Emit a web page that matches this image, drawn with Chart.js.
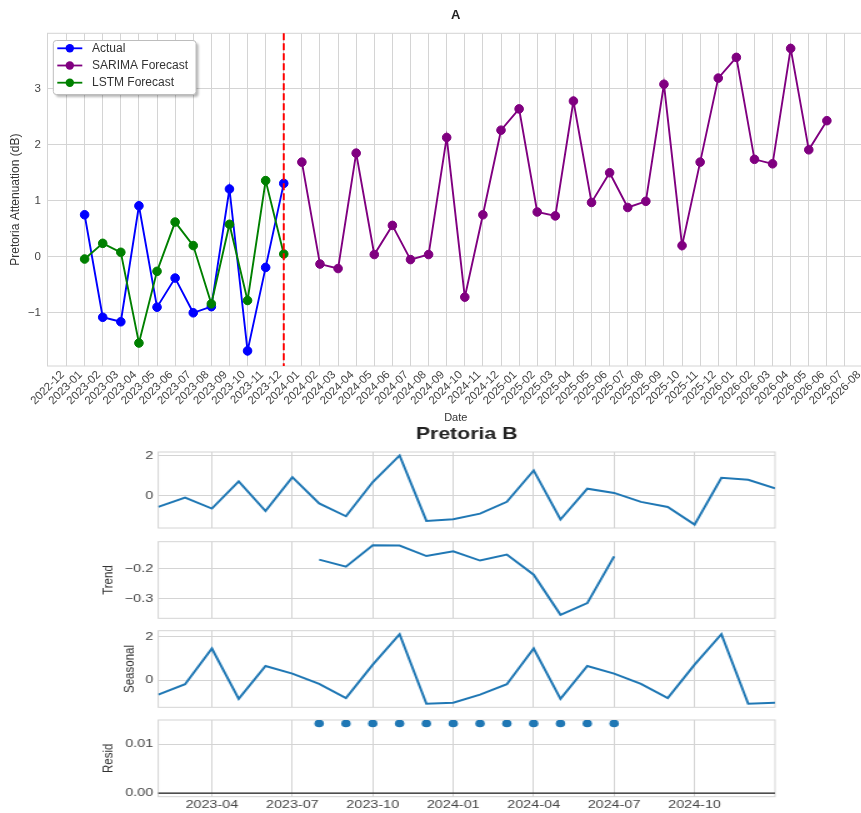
<!DOCTYPE html>
<html>
<head>
<meta charset="utf-8">
<title>Pretoria attenuation</title>
<script src="https://cdn.jsdelivr.net/npm/chart.js@4/dist/chart.umd.min.js"></script>
<style>
  html, body { margin: 0; padding: 0; background: #fff; }
  body { width: 861px; height: 813px; overflow: hidden; position: relative; }
  .panel { position: absolute; left: 0; }
  .wide { transform-origin: 0 0; transform: scaleX(1.25); }
  canvas { display: block; }
</style>
</head>
<body>
<div class="panel" style="top:0"><canvas id="forecast" width="880" height="430"></canvas></div>
<div class="panel wide" style="top:420px"><canvas id="observed" width="689" height="110"></canvas></div>
<div class="panel wide" style="top:535px"><canvas id="trend" width="689" height="86"></canvas></div>
<div class="panel wide" style="top:624px"><canvas id="seasonal" width="689" height="86"></canvas></div>
<div class="panel wide" style="top:713px"><canvas id="resid" width="689" height="100"></canvas></div>

<script>
// ---- Forecast panel (A) ----
const actualMonths = ['2023-01','2023-02','2023-03','2023-04','2023-05','2023-06',
                      '2023-07','2023-08','2023-09','2023-10','2023-11','2023-12'];
const actualValues = [0.75, -1.08, -1.16, 0.91, -0.90, -0.38, -1.00, -0.89, 1.21, -1.68, -0.19, 1.31];
const lstmValues   = [-0.04, 0.24, 0.08, -1.54, -0.26, 0.62, 0.20, -0.84, 0.58, -0.78, 1.36, 0.05];

const forecastMonths = ['2024-01','2024-02','2024-03','2024-04','2024-05','2024-06',
                        '2024-07','2024-08','2024-09','2024-10','2024-11','2024-12',
                        '2025-01','2025-02','2025-03','2025-04','2025-05','2025-06',
                        '2025-07','2025-08','2025-09','2025-10','2025-11','2025-12',
                        '2026-01','2026-02','2026-03','2026-04','2026-05','2026-06'];
const sarimaValues = [1.69, -0.13, -0.21, 1.85, 0.04, 0.56, -0.05, 0.04, 2.13, -0.72, 0.75, 2.26,
                      2.64, 0.80, 0.73, 2.78, 0.97, 1.50, 0.88, 0.99, 3.08, 0.20, 1.69, 3.19,
                      3.56, 1.74, 1.66, 3.72, 1.91, 2.43];

const forecastStart = '2023-12';

const monthTickLabels = ['2022-12',
  '2023-01','2023-02','2023-03','2023-04','2023-05','2023-06','2023-07','2023-08','2023-09','2023-10','2023-11','2023-12',
  '2024-01','2024-02','2024-03','2024-04','2024-05','2024-06','2024-07','2024-08','2024-09','2024-10','2024-11','2024-12',
  '2025-01','2025-02','2025-03','2025-04','2025-05','2025-06','2025-07','2025-08','2025-09','2025-10','2025-11','2025-12',
  '2026-01','2026-02','2026-03','2026-04','2026-05','2026-06','2026-07','2026-08'];
const attenuationTicks = [-1, 0, 1, 2, 3];

// ---- Seasonal decomposition panel (Pretoria B) ----
const decompMonths = ['2023-01','2023-02','2023-03','2023-04','2023-05','2023-06',
                      '2023-07','2023-08','2023-09','2023-10','2023-11','2023-12',
                      '2024-01','2024-02','2024-03','2024-04','2024-05','2024-06',
                      '2024-07','2024-08','2024-09','2024-10','2024-11','2024-12'];
const observedValues = [-0.54, -0.08, -0.62, 0.72, -0.74, 0.93, -0.37, -1.00, 0.69, 2.00, -1.23, -1.15,
                        -0.87, -0.29, 1.26, -1.16, 0.36, 0.15, -0.29, -0.54, -1.41, 0.90, 0.80, 0.38];
const trendValues = [null, null, null, null, null, null,
                     -0.170, -0.193, -0.122, -0.123, -0.158, -0.142,
                     -0.173, -0.153, -0.220, -0.353, -0.314, -0.159,
                     null, null, null, null, null, null];
const seasonalValues = [-0.66, -0.18, 1.46, -0.85, 0.66, 0.31, -0.16, -0.82, 0.72, 2.12, -1.08, -1.03,
                        -0.66, -0.18, 1.46, -0.85, 0.66, 0.31, -0.16, -0.82, 0.72, 2.12, -1.08, -1.03];
const residValues = [null, null, null, null, null, null,
                     0.0142, 0.0142, 0.0142, 0.0142, 0.0142, 0.0142,
                     0.0142, 0.0142, 0.0142, 0.0142, 0.0142, 0.0142,
                     null, null, null, null, null, null];

const quarterTickLabels = ['2023-04','2023-07','2023-10','2024-01','2024-04','2024-07','2024-10'];
const observedTicks = [0, 2];
const trendTicks    = [-0.3, -0.2];
const seasonalTicks = [0, 2];
const residTicks    = [0, 0.01];

// ---- helpers ----
const monthNum = s => { const [y, m] = s.split('-').map(Number); return y * 12 + (m - 1); };
const minus = v => (v < 0 ? '\u2212' + String(Math.abs(v)) : String(v));

// autoscale with a 5% margin on each side
function paddedRange(values, extra = []) {
  const v = values.filter(x => x !== null).concat(extra);
  const lo = Math.min(...v), hi = Math.max(...v), m = (hi - lo) * 0.05;
  return [lo - m, hi + m];
}

const GRID = '#d4d4d4';
const TEXT = '#444';
const C0 = '#1f77b4';

Chart.defaults.font.family = "'Liberation Sans', Arial, sans-serif";
Chart.defaults.color = TEXT;

const fixWidth = w => s => { s.width = w; s.paddingTop = 0; s.paddingBottom = 0; };
const fixHeight = h => s => { s.height = h; s.paddingLeft = 0; s.paddingRight = 0; };

// thin box around the plotting area
const framePlugin = {
  id: 'frame',
  beforeDatasetsDraw(chart) {
    const { ctx, chartArea: a } = chart;
    ctx.save();
    ctx.strokeStyle = GRID;
    ctx.lineWidth = 1;
    ctx.strokeRect(a.left, a.top, a.width, a.height);
    ctx.restore();
  }
};

// dashed marker where the forecast begins
const cutoffLine = {
  id: 'cutoffLine',
  afterDatasetsDraw(chart, args, opts) {
    const { ctx, chartArea: a, scales } = chart;
    const x = scales.x.getPixelForValue(monthNum(opts.month));
    ctx.save();
    ctx.strokeStyle = opts.color;
    ctx.lineWidth = 2;
    ctx.setLineDash([7, 3]);
    ctx.beginPath();
    ctx.moveTo(x, a.top);
    ctx.lineTo(x, a.bottom);
    ctx.stroke();
    ctx.restore();
  }
};

// legend drawn inside the plot, upper-left corner
const insetLegend = {
  id: 'insetLegend',
  afterDraw(chart, args, opts) {
    const { ctx, chartArea: a } = chart;
    const sets = chart.data.datasets;
    ctx.save();
    ctx.font = opts.font;
    const textW = Math.max(...sets.map(d => ctx.measureText(d.label).width));
    const x = a.left + 5.8, y = a.top + 7.2;
    const w = 38.7 + textW + 8, h = 54;
    // shadow
    ctx.fillStyle = 'rgba(0,0,0,0.28)';
    ctx.filter = 'blur(1px)';
    ctx.beginPath();
    ctx.roundRect(x + 2.5, y + 2.5, w, h, 3);
    ctx.fill();
    ctx.filter = 'none';
    // frame
    ctx.fillStyle = '#fff';
    ctx.strokeStyle = '#bdbdbd';
    ctx.lineWidth = 1;
    ctx.beginPath();
    ctx.roundRect(x, y, w, h, 3);
    ctx.fill();
    ctx.stroke();
    sets.forEach((d, i) => {
      const cy = y + 7.8 + i * 17.2;
      ctx.strokeStyle = d.borderColor;
      ctx.lineWidth = 1.8;
      ctx.beginPath();
      ctx.moveTo(x + 4, cy);
      ctx.lineTo(x + 29, cy);
      ctx.stroke();
      ctx.fillStyle = d.borderColor;
      ctx.beginPath();
      ctx.arc(x + 16.5, cy, 4.2, 0, Math.PI * 2);
      ctx.fill();
      ctx.fillStyle = '#333';
      ctx.textBaseline = 'middle';
      ctx.textAlign = 'left';
      ctx.fillText(d.label, x + 38.7, cy);
    });
    ctx.restore();
  }
};

// horizontal reference line at zero
const zeroLine = {
  id: 'zeroLine',
  beforeDatasetsDraw(chart, args, opts) {
    if (!opts.show) return;
    const { ctx, chartArea: a, scales } = chart;
    const y = scales.y.getPixelForValue(0);
    ctx.save();
    ctx.strokeStyle = '#222';
    ctx.lineWidth = 1.3;
    ctx.beginPath();
    ctx.moveTo(a.left, y);
    ctx.lineTo(a.right, y);
    ctx.stroke();
    ctx.restore();
  }
};

// ---- chart A ----
const monthLabelByValue = new Map(monthTickLabels.map(l => [monthNum(l), l]));
const allMonths = actualMonths.concat(forecastMonths).map(monthNum);
const xSpan = Math.max(...allMonths) - Math.min(...allMonths);
const [yA0, yA1] = paddedRange(actualValues.concat(lstmValues, sarimaValues));

const series = (months, values) => months.map((m, i) => ({ x: monthNum(m), y: values[i] }));
const lineStyle = c => ({ borderColor: c, backgroundColor: c, pointBackgroundColor: c, pointBorderColor: c });

new Chart(document.getElementById('forecast'), {
  type: 'line',
  data: {
    datasets: [
      { label: 'Actual', data: series(actualMonths, actualValues), order: 3, ...lineStyle('blue') },
      { label: 'SARIMA Forecast', data: series(forecastMonths, sarimaValues), order: 2, ...lineStyle('purple') },
      { label: 'LSTM Forecast', data: series(actualMonths, lstmValues), order: 1, ...lineStyle('green') }
    ]
  },
  options: {
    responsive: false,
    animation: false,
    devicePixelRatio: 1,
    events: [],
    layout: { padding: { left: 0, right: 16, top: 0, bottom: 5 } },
    elements: {
      line: { borderWidth: 1.9, tension: 0 },
      point: { radius: 4.3, borderWidth: 1 }
    },
    plugins: {
      legend: { display: false },
      tooltip: { enabled: false },
      title: {
        display: true, text: 'A', fullSize: false, color: '#222',
        font: { size: 13, weight: 'bold' }, padding: { top: 7.7, bottom: 10 }
      },
      insetLegend: { font: "12px 'Liberation Sans', Arial, sans-serif" },
      cutoffLine: { month: forecastStart, color: 'red' }
    },
    scales: {
      x: {
        type: 'linear',
        min: Math.min(...allMonths) - 0.05 * xSpan,
        max: Math.max(...allMonths) + 0.05 * xSpan,
        afterBuildTicks: s => { s.ticks = monthTickLabels.map(l => ({ value: monthNum(l) })); },
        afterFit: fixHeight(59),
        grid: { color: GRID, drawTicks: false },
        border: { display: false },
        ticks: {
          autoSkip: false, maxRotation: 45, minRotation: 45, padding: 2, labelOffset: -4,
          font: { size: 11.5 }, color: TEXT,
          callback: v => monthLabelByValue.get(v)
        },
        title: { display: true, text: 'Date', color: '#333', font: { size: 11 }, padding: { top: 0, bottom: 0 } }
      },
      y: {
        min: yA0, max: yA1,
        afterBuildTicks: s => { s.ticks = attenuationTicks.map(v => ({ value: v })); },
        afterFit: fixWidth(47.5),
        grid: { color: GRID, drawTicks: false },
        border: { display: false },
        ticks: { padding: 6.5, font: { size: 11.5 }, color: TEXT, callback: v => minus(v) },
        title: {
          display: true, text: 'Pretoria Attenuation (dB)', color: '#333',
          font: { size: 12 }, padding: { top: 8.5, bottom: 0 }
        }
      }
    }
  },
  plugins: [framePlugin, insetLegend, cutoffLine]
});

// ---- Pretoria B: one chart per component ----
const quarterLabelByValue = new Map(quarterTickLabels.map(l => [monthNum(l), l]));
// month-end samples sit at the start of the following month
const decompX = decompMonths.map(m => monthNum(m) + 1);

function decompPanel(id, cfg) {
  const [lo, hi] = paddedRange(cfg.values, cfg.extra || []);
  return new Chart(document.getElementById(id), {
    type: 'line',
    data: {
      datasets: [{
        data: decompX.map((x, i) => ({ x, y: cfg.values[i] })),
        borderColor: C0, backgroundColor: C0,
        pointBackgroundColor: C0, pointBorderWidth: 0,
        pointRadius: cfg.dots ? 3.8 : 0,
        showLine: !cfg.dots,
        borderWidth: 2, tension: 0, spanGaps: false
      }]
    },
    options: {
      responsive: false,
      animation: false,
      devicePixelRatio: 1,
      events: [],
      layout: { padding: { left: 0, right: 69, top: cfg.padTop, bottom: cfg.padBottom } },
      plugins: {
        legend: { display: false },
        tooltip: { enabled: false },
        title: cfg.title ? {
          display: true, text: cfg.title, fullSize: false, color: '#222',
          font: { size: 17, weight: 'bold' }, padding: { top: 3.8, bottom: 7.8 }
        } : { display: false },
        zeroLine: { show: !!cfg.zero }
      },
      scales: {
        x: {
          type: 'linear',
          min: decompX[0], max: decompX[decompX.length - 1],
          afterBuildTicks: s => { s.ticks = quarterTickLabels.map(l => ({ value: monthNum(l) })); },
          afterFit: fixHeight(cfg.xHeight),
          grid: { color: GRID, drawTicks: false },
          border: { display: false },
          ticks: {
            display: !!cfg.xLabels, autoSkip: false, maxRotation: 0, minRotation: 0,
            padding: 1.5, font: { size: 11.5 }, color: TEXT,
            callback: v => quarterLabelByValue.get(v)
          }
        },
        y: {
          min: lo, max: hi,
          afterBuildTicks: s => { s.ticks = cfg.ticks.map(v => ({ value: v })); },
          afterFit: fixWidth(126.6),
          grid: { color: GRID, drawTicks: false },
          border: { display: false },
          ticks: { padding: 4, font: { size: 11.5 }, color: TEXT, callback: cfg.fmt },
          title: cfg.yTitle ? {
            display: true, text: cfg.yTitle, color: '#333',
            font: { size: 11.5 }, padding: { top: cfg.yTitlePad, bottom: 0 }
          } : { display: false }
        }
      }
    },
    plugins: [framePlugin, zeroLine]
  });
}

decompPanel('observed', {
  values: observedValues, ticks: observedTicks, fmt: v => minus(v),
  title: 'Pretoria B', padTop: 0, padBottom: 2, xHeight: 0
});
decompPanel('trend', {
  values: trendValues, ticks: trendTicks, fmt: v => minus(v),
  yTitle: 'Trend', yTitlePad: 79.5, padTop: 6.7, padBottom: 2.7, xHeight: 0
});
decompPanel('seasonal', {
  values: seasonalValues, ticks: seasonalTicks, fmt: v => minus(v),
  yTitle: 'Seasonal', yTitlePad: 96.6, padTop: 6.7, padBottom: 2.7, xHeight: 0
});
decompPanel('resid', {
  values: residValues, ticks: residTicks, fmt: v => v.toFixed(2), extra: [0],
  dots: true, zero: true, xLabels: true,
  yTitle: 'Resid', yTitlePad: 79.5, padTop: 7, padBottom: 0, xHeight: 16.3
});
</script>
</body>
</html>
